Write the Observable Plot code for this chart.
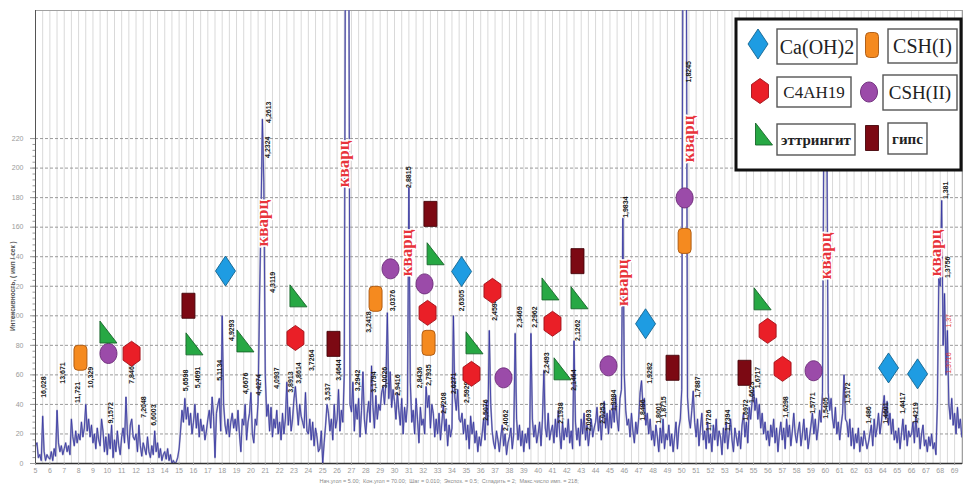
<!DOCTYPE html>
<html>
<head>
<meta charset="utf-8">
<script src="https://cdn.jsdelivr.net/npm/d3@7"></script>
<script src="https://cdn.jsdelivr.net/npm/@observablehq/plot@0.6"></script>
<style>
  html, body { margin: 0; padding: 0; background: #fff; }
  #wrap { position: relative; width: 963px; height: 486px; overflow: hidden; }
  #legend { position: absolute; left: 0; top: 0; pointer-events: none; }
</style>
</head>
<body>
<div id="wrap"></div>
<script>
// ---------------- DATA ----------------
// Diffractogram: intensity (counts/s) sampled every 0.1° 2θ starting at 5.0°
const angleStart = 5.0;
const angleStep = 0.1;
const intensity = [
  /* 5 */ 12, 14, 4, 6, 2, 32, 8, 2, 6, 4,
  /* 6 */ 3, 8, 2, 10, 5, 36, 14, 8, 12, 6,
  /* 7 */ 10, 14, 8, 12, 6, 30, 18, 12, 22, 14,
  /* 8 */ 20, 16, 28, 18, 24, 40, 22, 30, 18, 26,
  /* 9 */ 14, 20, 10, 24, 16, 12, 30, 22, 8, 18,
  /*10 */ 6, 20, 10, 26, 4, 16, 8, 22, 12, 6,
  /*11 */ 18, 24, 14, 45, 20, 10, 26, 30, 18, 16,
  /*12 */ 20, 8, 26, 12, 5, 14, 10, 6, 18, 8,
  /*13 */ 4, 12, 6, 22, 8, 14, 4, 10, 2, 6,
  /*14 */ 8, 3, 10, 2, 6, 0, 2, 0, 1, 4,
  /*15 */ 10, 22, 36, 28, 44, 30, 38, 26, 34, 20,
  /*16 */ 28, 40, 24, 34, 18, 30, 22, 26, 16, 22,
  /*17 */ 30, 36, 24, 45, 32, 4, 34, 40, 44, 22,
  /*18 */ 100, 40, 26, 20, 30, 18, 28, 34, 24, 30,
  /*19 */ 22, 36, 20, 8, 30, 26, 40, 16, 28, 34,
  /*20 */ 48, 20, 14, 30, 26, 42, 110, 165, 233, 190,
  /*21 */ 60, 32, 40, 22, 38, 18, 30, 24, 36, 20,
  /*22 */ 28, 16, 34, 20, 30, 55, 26, 38, 22, 30,
  /*23 */ 44, 52, 38, 26, 40, 32, 28, 24, 48, 22,
  /*24 */ 20, 30, 16, 28, 12, 24, 18, 8, 10, 22,
  /*25 */ 0, 14, 26, 40, 34, 22, 30, 16, 40, 24,
  /*26 */ 30, 50, 22, 36, 28, 60, 420, 420, 420, 40,
  /*27 */ 35, 55, 22, 40, 30, 44, 18, 36, 62, 30,
  /*28 */ 20, 34, 42, 28, 66, 38, 24, 46, 30, 40,
  /*29 */ 36, 48, 52, 40, 55, 102, 44, 62, 38, 50,
  /*30 */ 42, 30, 48, 36, 26, 44, 20, 38, 28, 40,
  /*31 */ 187, 55, 28, 36, 20, 44, 30, 14, 38, 26,
  /*32 */ 30, 20, 52, 38, 46, 24, 40, 34, 18, 30,
  /*33 */ 20, 34, 16, 28, 40, 22, 30, 12, 26, 18,
  /*34 */ 24, 100, 45, 36, 50, 30, 28, 34, 20, 30,
  /*35 */ 16, 26, 10, 32, 20, 28, 14, 22, 8, 18,
  /*36 */ 12, 20, 30, 16, 42, 26, 90, 40, 22, 14,
  /*37 */ 10, 22, 16, 8, 18, 26, 12, 20, 6, 14,
  /*38 */ 18, 24, 10, 20, 88, 30, 16, 26, 12, 22,
  /*39 */ 8, 20, 14, 24, 10, 88, 30, 18, 26, 14,
  /*40 */ 20, 28, 12, 30, 63, 24, 18, 34, 16, 22,
  /*41 */ 26, 14, 30, 18, 36, 20, 10, 28, 16, 24,
  /*42 */ 18, 30, 14, 22, 10, 83, 28, 16, 24, 12,
  /*43 */ 30, 20, 34, 16, 26, 12, 22, 30, 18, 24,
  /*44 */ 28, 38, 22, 32, 16, 30, 42, 24, 34, 20,
  /*45 */ 36, 24, 40, 28, 46, 30, 22, 44, 50, 166,
  /*46 */ 60, 36, 26, 30, 18, 34, 22, 14, 28, 20,
  /*47 */ 30, 48, 56, 38, 44, 26, 34, 20, 30, 16,
  /*48 */ 22, 12, 26, 18, 8, 24, 14, 30, 10, 20,
  /*49 */ 16, 26, 12, 20, 8, 18, 28, 10, 24, 30,
  /*50 */ 50, 420, 420, 420, 45, 30, 24, 36, 49, 28,
  /*51 */ 18, 30, 12, 24, 34, 16, 22, 10, 28, 14,
  /*52 */ 20, 8, 26, 16, 30, 12, 22, 18, 6, 24,
  /*53 */ 14, 28, 10, 20, 30, 16, 8, 24, 18, 12,
  /*54 */ 22, 10, 26, 34, 18, 28, 14, 38, 30, 42,
  /*55 */ 51, 36, 44, 30, 40, 24, 34, 20, 28, 16,
  /*56 */ 22, 12, 26, 18, 30, 14, 24, 8, 20, 28,
  /*57 */ 16, 24, 10, 30, 18, 26, 12, 22, 34, 20,
  /*58 */ 14, 22, 28, 12, 20, 30, 16, 24, 10, 18,
  /*59 */ 26, 34, 20, 30, 16, 24, 36, 28, 48, 235,
  /*60 */ 235, 235, 48, 36, 44, 30, 24, 38, 20, 28,
  /*61 */ 16, 26, 34, 60, 30, 28, 18, 30, 12, 24,
  /*62 */ 10, 20, 14, 24, 8, 18, 12, 22, 16, 10,
  /*63 */ 14, 20, 26, 12, 30, 18, 24, 34, 20, 28,
  /*64 */ 38, 46, 30, 42, 26, 34, 20, 30, 16, 22,
  /*65 */ 14, 24, 10, 20, 30, 16, 26, 12, 22, 18,
  /*66 */ 20, 28, 14, 32, 18, 24, 10, 20, 26, 12,
  /*67 */ 16, 8, 18, 12, 20, 10, 14, 6, 40, 125,
  /*68 */ 120, 178, 80, 115, 60, 90, 40, 30, 44, 26,
  /*69 */ 34, 20, 38, 24, 30, 18
];

// Interplanar spacing labels: [text, 2θ, intensity at label base]
const peakLabels = [
  ["16,028", 5.56, 44.5], ["13,671", 6.88, 54], ["11,721", 7.92, 41], ["10,329", 8.83, 51],
  ["9,1572", 10.22, 27], ["7,8461", 11.69, 54], ["7,2048", 12.52, 31], ["6,6003", 13.22, 25.5],
  ["5,6598", 15.45, 49], ["5,4691", 16.28, 51], ["5,1134", 17.81, 56], ["4,9293", 18.65, 83],
  ["4,6676", 19.62, 47], ["4,4274", 20.53, 46], ["4,3119", 21.5, 115.6], ["4,2324", 21.15, 206.9],
  ["4,2613", 21.22, 230.6], ["4,0937", 21.78, 50.6], ["3,8913", 22.76, 47.9], ["3,8614", 23.31, 54],
  ["3,7264", 24.22, 62.6], ["3,537", 25.33, 42.5], ["3,4644", 26.1, 56], ["3,2942", 27.42, 49],
  ["3,2418", 28.19, 88.5], ["3,1794", 28.54, 47.9], ["3,0026", 29.3, 51], ["3,0376", 29.86, 103],
  ["2,9416", 30.21, 45.8], ["2,8815", 30.97, 186.6], ["2,8436", 31.74, 51], ["2,7935", 32.37, 52.6],
  ["2,7208", 33.41, 33.6], ["2,6271", 34.11, 47], ["2,6305", 34.67, 103], ["2,5929", 35.01, 41],
  ["2,5076", 36.34, 28.9], ["2,4594", 36.96, 96.6], ["2,4062", 37.73, 22], ["2,3469", 38.7, 91.9],
  ["2,2962", 39.75, 91.9], ["2,2493", 40.58, 60.7], ["2,1938", 41.56, 26.9], ["2,1464", 42.47, 49.2],
  ["2,1262", 42.74, 83], ["2,0693", 43.51, 22], ["2,0253", 44.48, 26.9], ["1,9984", 45.25, 35.5],
  ["1,9834", 46.09, 166.3], ["1,8496", 47.27, 28.9], ["1,9282", 47.76, 54], ["1,8001", 48.38, 26.9],
  ["1,8715", 48.73, 31], ["1,8245", 50.47, 258], ["1,7887", 51.1, 44.5], ["1,7726", 51.87, 22],
  ["1,7394", 53.19, 22], ["1,6972", 54.44, 28.9], ["1,6623", 54.86, 41], ["1,6717", 55.28, 51],
  ["1,6298", 57.23, 31], ["1,5771", 59.11, 33.6], ["1,5405", 60.01, 30.3], ["1,5172", 61.55, 40.4],
  ["1,486", 63.01, 26.9], ["1,4601", 64.19, 26.9], ["1,4417", 65.38, 33.6], ["1,4219", 66.28, 26.9],
  ["1,381", 68.37, 179], ["1,3756", 68.51, 125.6]
];
const redLabels = [["1,37", 68.6, 92], ["1,3716", 68.6, 60.7]];

// "кварц" (quartz) annotation centres: [2θ, intensity]
const quartzLabels = [[20.81, 162.7], [26.45, 202.9], [30.84, 142.6], [45.88, 122.4], [50.47, 219.8], [60.01, 140.6], [67.67, 142.6]];

// Phase markers: [2θ, intensity]
const caoh2 = [[18.23, 130.3], [34.67, 130], [47.48, 94.6], [64.4, 64.7], [66.42, 60.7]];
const csh1 = [[8.13, 71.6], [28.68, 111.5], [32.37, 81.7], [50.2, 150.7]];
const c4ah19 = [[11.69, 74.3], [23.1, 85], [32.3, 102], [35.36, 60.7], [36.82, 116.9], [41.0, 94.6], [55.98, 89.8], [57.02, 64.1]];
const csh2 = [[10.08, 74.5], [29.72, 131.8], [32.09, 121.6], [37.59, 58], [44.9, 66.1], [50.2, 179.8], [59.18, 62.8]];
const ettringite = [[10.08, 89], [16.07, 81], [19.62, 83], [23.31, 113.5], [32.86, 142], [35.57, 81.7], [40.86, 118.2], [41.7, 64.1], [42.88, 112.2], [55.63, 111.5]];
const gypsum = [[15.65, 106.8], [25.75, 81], [32.5, 169], [42.74, 137], [49.36, 64.8], [54.37, 61.4]];

const phaseNames = ["Ca(OH)2", "CSH(I)", "C4AH19", "CSH(II)", "эттрингит", "гипс"];
const xTicks = d3.range(5, 70, 1);
const xGrid = d3.range(5.5, 69.6, 0.5);
const yTicks = [0, 20, 40, 60, 80, 100, 120, 140, 160, 180, 200, 220];
const yMinor = d3.range(0, 221, 4);
const yLabel = "Интенсивность, ( имп / сек )";
const caption = "Нач.угол = 5.00;  Кон.угол = 70.00;  Шаг = 0.010;  Экспоз. = 0.5;  Сгладить = 2;  Макс.число имп. = 218;";

// ---------------- SHAPES ----------------
const shapes = {
  diamond: { draw(c) { c.moveTo(0, -15); c.lineTo(10, 0); c.lineTo(0, 15); c.lineTo(-10, 0); c.closePath(); } },
  roundRect: { draw(c) { const w = 6.5, h = 12.5, r = 4;
    c.moveTo(-w + r, -h); c.lineTo(w - r, -h); c.arcTo(w, -h, w, -h + r, r); c.lineTo(w, h - r);
    c.arcTo(w, h, w - r, h, r); c.lineTo(-w + r, h); c.arcTo(-w, h, -w, h - r, r); c.lineTo(-w, -h + r);
    c.arcTo(-w, -h, -w + r, -h, r); c.closePath(); } },
  hexagon: { draw(c) { c.moveTo(0, -12.5); c.lineTo(8.5, -6.5); c.lineTo(8.5, 6.5); c.lineTo(0, 12.5); c.lineTo(-8.5, 6.5); c.lineTo(-8.5, -6.5); c.closePath(); } },
  ellipse: { draw(c) { const rx = 8.5, ry = 10, k = 0.5523;
    c.moveTo(0, -ry); c.bezierCurveTo(k * rx, -ry, rx, -k * ry, rx, 0); c.bezierCurveTo(rx, k * ry, k * rx, ry, 0, ry);
    c.bezierCurveTo(-k * rx, ry, -rx, k * ry, -rx, 0); c.bezierCurveTo(-rx, -k * ry, -k * rx, -ry, 0, -ry); c.closePath(); } },
  rightTriangle: { draw(c) { c.moveTo(-8.5, -11); c.lineTo(-8.5, 11); c.lineTo(8.5, 11); c.closePath(); } },
  rect: { draw(c) { c.moveTo(-6.5, -12.5); c.lineTo(6.5, -12.5); c.lineTo(6.5, 12.5); c.lineTo(-6.5, 12.5); c.closePath(); } }
};
const phaseStyle = [
  { data: caoh2, shape: shapes.diamond, fill: "#1e9ce2", stroke: "#15648f" },
  { data: csh1, shape: shapes.roundRect, fill: "#f58a1f", stroke: "#a8560f" },
  { data: c4ah19, shape: shapes.hexagon, fill: "#ea1f27", stroke: "#a0121a" },
  { data: csh2, shape: shapes.ellipse, fill: "#9b4ba9", stroke: "#6b2a78" },
  { data: ettringite, shape: shapes.rightTriangle, fill: "#27a844", stroke: "#17652a" },
  { data: gypsum, shape: shapes.rect, fill: "#7c0913", stroke: "#45040a" }
];

// ---------------- BUILD ----------------
const profile = intensity.map((v, i) => ({ angle: +(angleStart + i * angleStep).toFixed(2), value: v }));
const labelRows = peakLabels.map(([t, a, v]) => ({ t, a, v }));
const redRows = redLabels.map(([t, a, v]) => ({ t, a, v }));
const quartzRows = quartzLabels.map(([a, v]) => ({ a, v }));

const labelFont = "'Liberation Sans', Arial, sans-serif";

const chart = Plot.plot({
  width: 963,
  height: 486,
  marginLeft: 35,
  marginRight: 1,
  marginTop: 10,
  marginBottom: 23,
  x: { domain: [5, 69.55] },
  y: { domain: [0, 306.7] },
  style: { background: "white", fontFamily: "'Liberation Sans', Arial, sans-serif" },
  marks: [
    Plot.ruleX(xGrid, { stroke: "#d9d9d9", strokeWidth: 1 }),
    Plot.ruleY(yTicks.filter(d => d > 0), { stroke: "#8f8f8f", strokeWidth: 0.9, strokeDasharray: "3,2" }),
    Plot.frame({ stroke: "#a0a0a0" }),
    Plot.line(profile, { x: "angle", y: "value", stroke: "#a3a3c4", strokeWidth: 1.8, clip: true }),
    Plot.line(profile, { x: "angle", y: "value", stroke: "#3232a2", strokeWidth: 0.8, clip: true }),
    Plot.ruleX([5], { stroke: "#555", strokeWidth: 1 }),
    Plot.ruleY([0], { stroke: "#333", strokeWidth: 1.5 }),
    Plot.axisY({ ticks: yTicks, tickSize: 5, tickPadding: 7, fontSize: 7, color: "#9a9a9a", label: null }),
    Plot.axisY({ ticks: yMinor, tickSize: 2.5, tickFormat: () => "", color: "#9a9a9a", label: null }),
    Plot.axisX({ ticks: xTicks, tickSize: 2, tickPadding: 3, fontSize: 7, color: "#9a9a9a", label: null }),
    Plot.text(labelRows, { x: "a", y: "v", text: "t", rotate: -90, textAnchor: "start", fontSize: 7, fontWeight: "bold", fill: "#1a1a1a", fontFamily: labelFont }),
    Plot.text(redRows, { x: "a", y: "v", text: "t", rotate: -90, textAnchor: "start", fontSize: 7, fill: "#e23a3a", fontFamily: labelFont }),
    Plot.text(quartzRows, { x: "a", y: "v", text: () => "кварц", rotate: -90, fontSize: 17, fontWeight: "bold", fill: "#e8343c", stroke: "white", strokeWidth: 3, paintOrder: "stroke", fontFamily: "'Liberation Serif', 'DejaVu Serif', serif" }),
    ...phaseStyle.map(p => Plot.dot(p.data, { x: d => d[0], y: d => d[1], symbol: p.shape, r: 5, fill: p.fill, stroke: p.stroke, strokeWidth: 0.9 })),
    Plot.text([yLabel], { x: 5, y: 120, dx: -23, rotate: -90, fontSize: 6.5, fontWeight: "bold", fill: "#555" }),
    Plot.text([caption], { x: 33.8, y: 0, dy: 18, fontSize: 5.5, fill: "#8a8a8a" })
  ]
});

const wrap = document.getElementById("wrap");
wrap.appendChild(chart);

// ---------------- LEGEND ----------------
const legendBoxes = [
  { name: phaseNames[0], sx: 758, sy: 44, bx: 777, by: 29, bw: 80, bh: 35, fs: 20, fw: "normal" },
  { name: phaseNames[1], sx: 872, sy: 45, bx: 888, by: 29, bw: 69, bh: 34, fs: 20, fw: "normal" },
  { name: phaseNames[2], sx: 760, sy: 91, bx: 777, by: 77, bw: 74, bh: 30, fs: 17, fw: "normal" },
  { name: phaseNames[3], sx: 869, sy: 92, bx: 883, by: 75, bw: 74, bh: 35, fs: 19, fw: "normal" },
  { name: phaseNames[4], sx: 764, sy: 134, bx: 777, by: 124, bw: 78, bh: 31, fs: 15, fw: "bold" },
  { name: phaseNames[5], sx: 872, sy: 138, bx: 888, by: 123, bw: 39, bh: 31, fs: 15, fw: "bold" }
];
const lg = d3.select(wrap).append("svg").attr("id", "legend").attr("width", 963).attr("height", 486);
lg.append("rect").attr("x", 736).attr("y", 19).attr("width", 225).attr("height", 151)
  .attr("fill", "white").attr("stroke", "#111").attr("stroke-width", 3);
legendBoxes.forEach((b, i) => {
  const p = phaseStyle[i];
  lg.append("path").attr("d", d3.symbol(p.shape)()).attr("transform", `translate(${b.sx},${b.sy})`)
    .attr("fill", p.fill).attr("stroke", p.stroke).attr("stroke-width", 0.9);
  lg.append("rect").attr("x", b.bx).attr("y", b.by).attr("width", b.bw).attr("height", b.bh)
    .attr("fill", "white").attr("stroke", "#555").attr("stroke-width", 1.4);
  lg.append("text").attr("x", b.bx + b.bw / 2).attr("y", b.by + b.bh / 2).attr("dy", "0.35em")
    .attr("text-anchor", "middle").attr("font-family", "'Liberation Serif', 'DejaVu Serif', serif")
    .attr("font-size", b.fs).attr("font-weight", b.fw).attr("fill", "#222").text(b.name);
});
</script>
</body>
</html>
